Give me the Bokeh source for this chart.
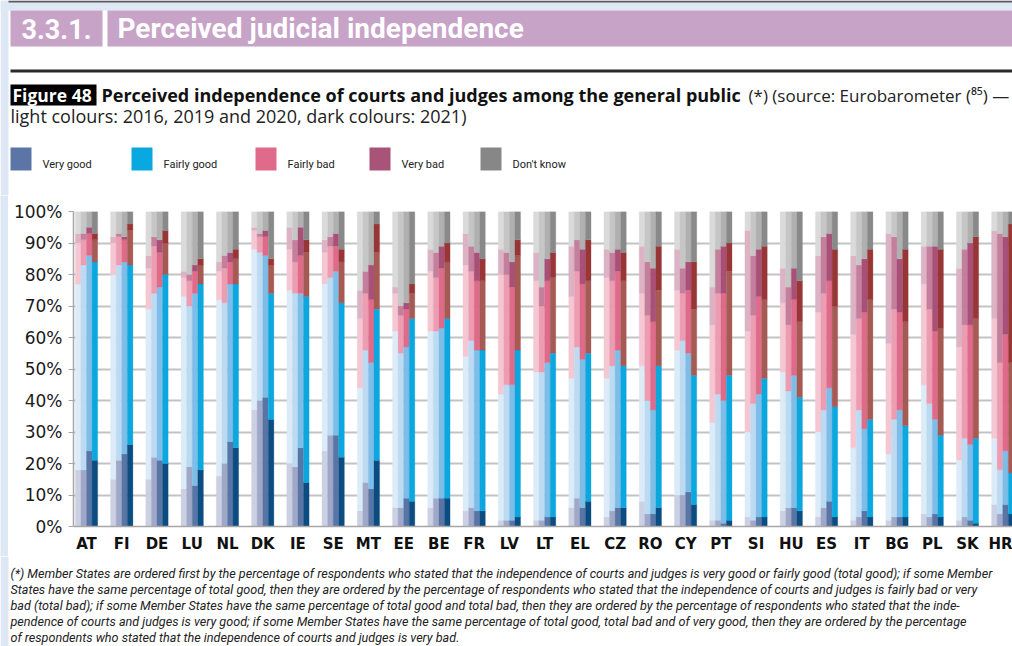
from bokeh.plotting import figure
from bokeh.layouts import column, row
from bokeh.models import Range1d, FixedTicker, ColumnDataSource
from bokeh.transform import dodge
from bokeh.core.properties import value
from bokeh.embed import file_html
from bokeh.resources import INLINE

countries = ["AT", "FI", "DE", "LU", "NL", "DK", "IE", "SE", "MT", "EE", "BE", "FR", "LV", "LT",
             "EL", "CZ", "RO", "CY", "PT", "SI", "HU", "ES", "IT", "BG", "PL", "SK", "HR"]
years = ["2016", "2019", "2020", "2021"]
categories = ["Very good", "Fairly good", "Fairly bad", "Very bad", "Don't know"]

very_good_2016 = [18, 15, 15, 12, 16, 37, 20, 24, 5, 6, 6, 5, 2, 2, 6, 3, 8, 10, 2, 3, 5, 3, 2, 2, 4, 2, 7]
fairly_good_2016 = [59, 65, 54, 61, 56, 51, 55, 53, 39, 56, 56, 49, 40, 47, 41, 44, 43, 46, 31, 27, 44, 27, 23, 21, 41, 19, 21]
fairly_bad_2016 = [13, 10, 13, 6, 9, 6, 13, 10, 22, 12, 19, 29, 38, 29, 26, 32, 23, 19, 31, 32, 22, 38, 36, 35, 32, 36, 38]
very_bad_2016 = [3, 2, 4, 2, 3, 1, 7, 4, 9, 2, 7, 10, 8, 9, 16, 9, 15, 13, 12, 32, 11, 18, 25, 35, 12, 25, 28]
dont_know_2016 = [7, 8, 14, 19, 16, 5, 5, 9, 25, 24, 12, 7, 12, 13, 11, 12, 11, 12, 24, 6, 18, 14, 14, 7, 11, 18, 6]

very_good_2019 = [18, 21, 22, 19, 20, 40, 19, 29, 14, 6, 9, 6, 2, 2, 9, 5, 4, 10, 2, 2, 6, 6, 3, 3, 3, 3, 4]
fairly_good_2019 = [65, 62, 52, 51, 51, 47, 55, 50, 42, 49, 53, 53, 43, 47, 48, 46, 36, 49, 40, 37, 37, 31, 34, 31, 36, 25, 14]
fairly_bad_2019 = [8, 9, 15, 8, 11, 5, 10, 10, 18, 12, 17, 22, 35, 21, 24, 27, 27, 15, 32, 28, 21, 37, 29, 35, 30, 36, 34]
very_bad_2019 = [2, 1, 3, 2, 4, 1, 7, 3, 7, 3, 8, 8, 7, 6, 10, 9, 17, 8, 14, 19, 12, 18, 17, 23, 20, 24, 41]
dont_know_2019 = [7, 7, 8, 20, 14, 7, 9, 8, 19, 30, 13, 11, 13, 24, 9, 13, 16, 18, 12, 14, 24, 8, 17, 8, 11, 12, 7]

very_good_2020 = [24, 23, 21, 13, 27, 41, 25, 29, 12, 9, 9, 5, 2, 3, 6, 6, 4, 11, 1, 3, 6, 8, 5, 3, 4, 2, 7]
fairly_good_2020 = [62, 61, 55, 61, 50, 45, 49, 52, 40, 48, 54, 51, 43, 49, 47, 50, 33, 44, 39, 39, 42, 36, 26, 34, 30, 24, 17]
fairly_bad_2020 = [7, 7, 11, 7, 7, 6, 12, 8, 20, 12, 19, 22, 31, 26, 24, 25, 28, 20, 34, 31, 24, 34, 37, 31, 28, 38, 37]
very_bad_2020 = [2, 1, 4, 2, 3, 2, 9, 4, 11, 2, 7, 9, 8, 7, 11, 7, 17, 9, 15, 15, 10, 15, 17, 17, 27, 26, 31]
dont_know_2020 = [5, 8, 9, 17, 13, 6, 5, 7, 17, 29, 11, 13, 16, 15, 12, 12, 18, 16, 11, 12, 18, 7, 15, 15, 11, 10, 8]

very_good_2021 = [21, 26, 20, 18, 25, 34, 14, 22, 21, 8, 9, 5, 3, 3, 8, 6, 6, 7, 2, 3, 5, 3, 3, 3, 3, 1, 4]
fairly_good_2021 = [63, 57, 60, 59, 52, 40, 59, 49, 48, 58, 57, 51, 53, 52, 47, 45, 45, 41, 46, 44, 36, 35, 31, 29, 26, 27, 13]
fairly_bad_2021 = [7, 11, 10, 6, 8, 9, 14, 13, 18, 8, 18, 22, 30, 24, 23, 27, 24, 21, 33, 25, 24, 32, 38, 33, 34, 38, 35]
very_bad_2021 = [2, 2, 4, 2, 3, 2, 4, 4, 9, 3, 6, 7, 5, 8, 13, 9, 14, 15, 9, 17, 13, 18, 16, 23, 25, 26, 44]
dont_know_2021 = [7, 4, 6, 15, 12, 15, 9, 12, 4, 23, 10, 15, 9, 13, 9, 13, 11, 16, 10, 11, 22, 12, 12, 12, 12, 8, 4]

y_ticks = [0, 10, 20, 30, 40, 50, 60, 70, 80, 90, 100]
y_tick_labels = ["0%", "10%", "20%", "30%", "40%", "50%", "60%", "70%", "80%", "90%", "100%"]

# colours: per category, per year (2016, 2019, 2020 light; 2021 dark)
colors = {
    "vg": ["#cbd0e2", "#9fa8c8", "#5875a5", "#0b4c81"],
    "fg": ["#dcebf8", "#bcdaf2", "#7ebde7", "#0ba7de"],
    "fb": ["#f4c7d2", "#ec9db1", "#df6b8a", "#a65a54"],
    "vb": ["#dcb3c4", "#c47f9c", "#a95078", "#983637"],
    "dk": ["#dadada", "#c6c6c6", "#b0b0b0", "#898989"],
}
legend_colors = ["#5b76a6", "#0aa8e0", "#e06a89", "#aa5378", "#878787"]

series = {
    "2016": [very_good_2016, fairly_good_2016, fairly_bad_2016, very_bad_2016, dont_know_2016],
    "2019": [very_good_2019, fairly_good_2019, fairly_bad_2019, very_bad_2019, dont_know_2019],
    "2020": [very_good_2020, fairly_good_2020, fairly_bad_2020, very_bad_2020, dont_know_2020],
    "2021": [very_good_2021, fairly_good_2021, fairly_bad_2021, very_bad_2021, dont_know_2021],
}
keys = ["vg", "fg", "fb", "vb", "dk"]

data = {"x": list(range(len(countries)))}
for yr in years:
    for k, vals in zip(keys, series[yr]):
        data[f"{k}_{yr}"] = vals
src = ColumnDataSource(data=data)

W = 1012
PAGE_BG = "#dde8f4"


def deco_fig(width, height, y_top, y_bottom, bg="white"):
    f = figure(width=width, height=height, x_range=Range1d(0, width),
               y_range=Range1d(y_bottom, y_top),
               x_axis_type=None, y_axis_type=None, toolbar_location=None,
               output_backend="svg", min_border=0, min_border_left=0, min_border_right=0,
               min_border_top=0, min_border_bottom=0, outline_line_color=None,
               frame_align=False, background_fill_color=bg, border_fill_color=bg)
    f.grid.visible = False
    return f


def txt(f, x, y, text, size, font="Roboto", style="normal", color="#222222"):
    # y is the wanted baseline; shift compensates the renderer's baseline placement
    f.text(x=[x], y=[y - 0.36 * size], text=[text], text_font=value(font),
           text_font_size=f"{size}px", text_font_style=style, text_color=color,
           text_baseline="alphabetic", text_align="left")


# ---------------- top: header, caption, legend ----------------
top = deco_fig(W, 195, 0, 195)
top.quad(left=[0, 0, 8], right=[8, W, W], top=[0, 0, 0], bottom=[195, 10, 2],
         color=[PAGE_BG, PAGE_BG, "#5a5a5a"], line_width=0)
top.quad(left=[10, 107], right=[102, W], top=[10, 10], bottom=[46, 46],
         color="#c7a3c8", line_width=0)
txt(top, 21, 38, "3.3.1.", 27, style="bold", color="white")
txt(top, 117, 38, "Perceived judicial independence", 28, style="bold", color="white")
top.quad(left=[10], right=[W], top=[69], bottom=[72], color="#2a2a2a", line_width=0)
top.quad(left=[10], right=[96], top=[84], bottom=[105], color="#000000", line_width=0)
txt(top, 12, 101, "Figure 48", 17.5, font="Open Sans", style="bold", color="white")
txt(top, 101, 101, "Perceived independence of courts and judges among the general public",
    18, font="Open Sans", style="bold", color="#111111")
txt(top, 748, 101, "(*) (source: Eurobarometer (\u2078\u2075) \u2014", 17, font="Open Sans")
txt(top, 10, 122, "light colours: 2016, 2019 and 2020, dark colours: 2021)", 18,
    font="Open Sans")
leg_x = [10, 131, 255, 369, 480]
top.quad(left=leg_x, right=[v + 21 for v in leg_x], top=[147] * 5, bottom=[170] * 5,
         color=legend_colors, line_width=0)
for lx, name in zip(leg_x, categories):
    txt(top, lx + 32, 168, name, 11)

# ---------------- chart ----------------
strip = deco_fig(8, 361, 0, 361, bg=PAGE_BG)

p = figure(width=W - 8, height=361, x_range=Range1d(-0.369, 26.277), y_range=Range1d(0, 100),
           toolbar_location=None, output_backend="svg",
           min_border_left=65, min_border_right=0, min_border_top=16, min_border_bottom=30,
           outline_line_color=None, frame_align=False)

bw = 0.1583
offsets = [-1.5 * bw, -0.5 * bw, 0.5 * bw, 1.5 * bw]
for j, yr in enumerate(years):
    stack_cols = [f"{k}_{yr}" for k in keys]
    cols = [colors[k][j] for k in keys]
    p.vbar_stack(stack_cols, x=dodge("x", offsets[j]), width=bw, source=src,
                 fill_color=cols, line_color=cols, line_width=0.3)

p.xgrid.visible = False
p.ygrid.grid_line_color = "#c3c3c3"
p.ygrid.grid_line_width = 2
p.ygrid.ticker = FixedTicker(ticks=y_ticks)

p.yaxis.ticker = FixedTicker(ticks=y_ticks)
p.yaxis.major_label_overrides = {t: l for t, l in zip(y_ticks, y_tick_labels)}
p.yaxis.major_label_text_font = "DejaVu Sans"
p.yaxis.major_label_text_font_size = "17px"
p.yaxis.major_label_text_color = "#1a1a1a"
p.yaxis.axis_line_color = "#a6a6a6"
p.yaxis.axis_line_width = 1.5
p.yaxis.major_tick_line_color = "#a6a6a6"
p.yaxis.major_tick_out = 5
p.yaxis.major_tick_in = 0
p.yaxis.minor_tick_line_color = None
p.yaxis.major_label_standoff = 6

p.xaxis.ticker = FixedTicker(ticks=list(range(len(countries))))
p.xaxis.major_label_overrides = {i: c for i, c in enumerate(countries)}
p.xaxis.major_label_text_font = "DejaVu Sans"
p.xaxis.major_label_text_font_style = "bold"
p.xaxis.major_label_text_font_size = "15px"
p.xaxis.major_label_text_color = "#111111"
p.xaxis.axis_line_color = "#a6a6a6"
p.xaxis.axis_line_width = 1.5
p.xaxis.major_tick_line_color = None
p.xaxis.minor_tick_line_color = None
p.xaxis.major_label_standoff = 2

# ---------------- footnote ----------------
foot = deco_fig(W, 90, 556, 646)
foot.quad(left=[0], right=[8], top=[556], bottom=[646], color=PAGE_BG, line_width=0)
foot_lines = [
    "(*) Member States are ordered first by the percentage of respondents who stated that the independence of courts and judges is very good or fairly good (total good); if some Member",
    "States have the same percentage of total good, then they are ordered by the percentage of respondents who stated that the independence of courts and judges is fairly bad or very",
    "bad (total bad); if some Member States have the same percentage of total good and total bad, then they are ordered by the percentage of respondents who stated that the inde-",
    "pendence of courts and judges is very good; if some Member States have the same percentage of total good, total bad and of very good, then they are ordered by the percentage",
    "of respondents who stated that the independence of courts and judges is very bad.",
]
for i, line in enumerate(foot_lines):
    txt(foot, 10, 578 + 16.0 * i, line, 12.6, style="italic")

layout = column(top, row(strip, p), foot)
open("out.html", "w").write(file_html(layout, INLINE))
